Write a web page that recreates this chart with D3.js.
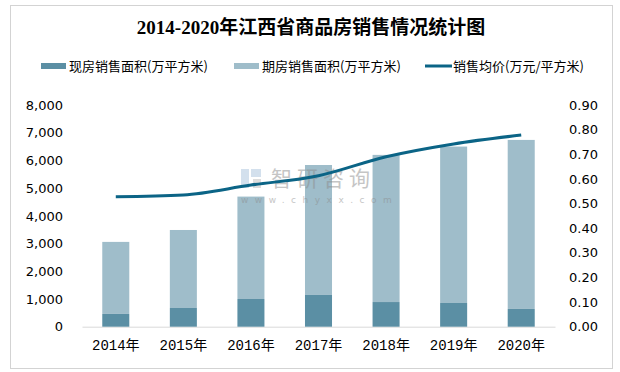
<!DOCTYPE html>
<html>
<head>
<meta charset="utf-8">
<script src="https://cdn.jsdelivr.net/npm/d3@7"></script>
<style>
  body { margin: 0; background: #fff; }
  svg { display: block; }
  .tick text { font-family: "DejaVu Sans", Verdana, sans-serif; font-size: 13px; fill: #000; }
  .xAxis .tick text { font-family: "Liberation Mono", "Noto Sans CJK SC", monospace; font-size: 14px; }
</style>
</head>
<body>
<div class="container"></div>
<script>
const years = ['2014年', '2015年', '2016年', '2017年', '2018年', '2019年', '2020年'];
const spotArea = [460, 675, 1000, 1145, 890, 855, 640];
const totalArea = [3060, 3490, 4695, 5835, 6200, 6500, 6740];
const futureArea = totalArea.map((t, i) => t - spotArea[i]);
const avgPrice = [0.528, 0.535, 0.575, 0.613, 0.690, 0.742, 0.778];
const leftTicks = [0, 1000, 2000, 3000, 4000, 5000, 6000, 7000, 8000];
const rightTicks = [0, 0.1, 0.2, 0.3, 0.4, 0.5, 0.6, 0.7, 0.8, 0.9];

const WIDTH = 620;
const HEIGHT = 372;
const PLOT = { left: 82, right: 555, top: 105, bottom: 326.7 };

const DARK = '#5b8fa4';
const LIGHT = '#9fbdca';
const LINE = '#0b6486';

let svg = d3.select('.container').append('svg')
    .attr('width', WIDTH)
    .attr('height', HEIGHT);

// outer frame
svg.append('rect')
    .attr('x', 10.5).attr('y', 5.5)
    .attr('width', 602).attr('height', 363)
    .attr('fill', 'none')
    .attr('stroke', '#a6a6a6')
    .attr('stroke-dasharray', '1,1');

svg.append('text')
    .attr('x', 311).attr('y', 34)
    .attr('text-anchor', 'middle')
    .style('font-family', '"Liberation Serif", "Noto Sans CJK SC", serif')
    .style('font-weight', 'bold')
    .style('font-size', '19px')
    .text('2014-2020年江西省商品房销售情况统计图');

let xScale = d3.scaleBand()
    .domain(years)
    .range([PLOT.left, PLOT.right])
    .paddingInner(0.6)
    .paddingOuter(0.3);

let yScale = d3.scaleLinear()
    .domain([0, 8000])
    .range([PLOT.bottom, PLOT.top]);

let y2Scale = d3.scaleLinear()
    .domain([0, 0.9])
    .range([PLOT.bottom, PLOT.top]);

// axes
svg.append('g')
    .attr('transform', `translate(66, 0)`)
    .call(d3.axisLeft(yScale).tickValues(leftTicks).tickFormat(d3.format(',')).tickSize(0))
    .call(g => g.select('.domain').remove());

svg.append('g')
    .attr('transform', `translate(566, 0)`)
    .call(d3.axisRight(y2Scale).tickValues(rightTicks).tickFormat(d3.format('.2f')).tickSize(0))
    .call(g => g.select('.domain').remove());

svg.append('g')
    .classed('xAxis', true)
    .attr('transform', `translate(0, ${PLOT.bottom})`)
    .call(d3.axisBottom(xScale).tickSize(0).tickPadding(13))
    .call(g => g.select('.domain').attr('stroke', '#d9d9d9'));

// stacked bars
let bars = svg.append('g');
bars.selectAll('.spot').data(years)
    .enter().append('rect')
    .attr('x', d => xScale(d))
    .attr('width', xScale.bandwidth())
    .attr('y', (d, i) => yScale(spotArea[i]))
    .attr('height', (d, i) => yScale(0) - yScale(spotArea[i]))
    .attr('fill', DARK);

bars.selectAll('.future').data(years)
    .enter().append('rect')
    .attr('x', d => xScale(d))
    .attr('width', xScale.bandwidth())
    .attr('y', (d, i) => yScale(spotArea[i] + futureArea[i]))
    .attr('height', (d, i) => yScale(spotArea[i]) - yScale(spotArea[i] + futureArea[i]))
    .attr('fill', LIGHT);

// watermark, semi transparent over the bars
let wm = svg.append('g').attr('opacity', 0.5);
wm.append('rect').attr('x', 241).attr('y', 169).attr('width', 8).attr('height', 19).attr('fill', '#a9c3dd');
wm.append('rect').attr('x', 251).attr('y', 169).attr('width', 10).attr('height', 8).attr('fill', '#a9c3dd');
wm.append('rect').attr('x', 253).attr('y', 179).attr('width', 8).attr('height', 9).attr('fill', '#bdbdbd');
wm.append('text')
    .attr('x', 271).attr('y', 186)
    .style('font-family', '"Noto Sans CJK SC", sans-serif')
    .style('font-size', '21px')
    .style('letter-spacing', '5px')
    .attr('fill', '#8c8c8c')
    .text('智研咨询');
wm.append('text')
    .attr('x', 241).attr('y', 203)
    .style('font-family', '"DejaVu Sans", sans-serif')
    .style('font-size', '9px')
    .style('letter-spacing', '6.5px')
    .attr('fill', '#8c8c8c')
    .text('www.chyxx.com');

// price line
let line = d3.line()
    .x((d, i) => xScale(years[i]) + xScale.bandwidth() / 2)
    .y(d => y2Scale(d))
    .curve(d3.curveMonotoneX);

svg.append('path')
    .attr('d', line(avgPrice))
    .attr('fill', 'none')
    .attr('stroke', LINE)
    .attr('stroke-width', 3);

// legend
const legendItems = [
    { label: '现房销售面积(万平方米)', x: 41, type: 'rect', color: DARK },
    { label: '期房销售面积(万平方米)', x: 234, type: 'rect', color: LIGHT },
    { label: '销售均价(万元/平方米)', x: 425, type: 'line', color: LINE }
];

let legend = svg.append('g');
legendItems.forEach(item => {
    if (item.type === 'rect') {
        legend.append('rect')
            .attr('x', item.x).attr('y', 63)
            .attr('width', 25).attr('height', 6)
            .attr('fill', item.color);
    } else {
        legend.append('line')
            .attr('x1', item.x).attr('x2', item.x + 27)
            .attr('y1', 66).attr('y2', 66)
            .attr('stroke', item.color)
            .attr('stroke-width', 3);
    }
    legend.append('text')
        .attr('x', item.x + 28).attr('y', 71)
        .style('font-family', '"Noto Sans CJK SC", sans-serif')
        .style('font-size', '13px')
        .text(item.label);
});
</script>
</body>
</html>
